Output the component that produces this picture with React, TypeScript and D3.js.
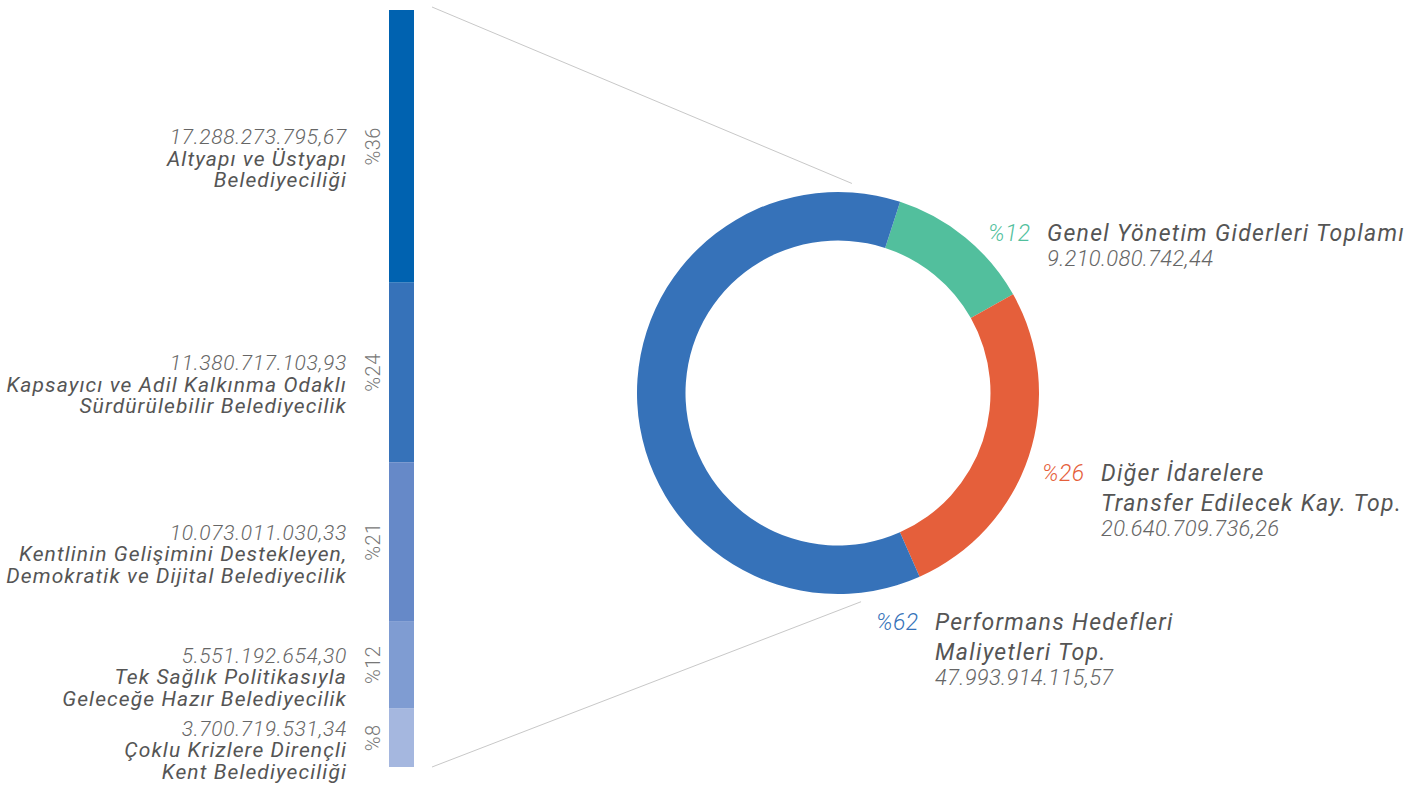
import React, { useRef, useEffect } from 'react';
import * as d3 from 'd3';

// performance goals (left stacked bar)
const programNames = [
  ['Altyapı ve Üstyapı', 'Belediyeciliği'],
  ['Kapsayıcı ve Adil Kalkınma Odaklı', 'Sürdürülebilir Belediyecilik'],
  ['Kentlinin Gelişimini Destekleyen,', 'Demokratik ve Dijital Belediyecilik'],
  ['Tek Sağlık Politikasıyla', 'Geleceğe Hazır Belediyecilik'],
  ['Çoklu Krizlere Dirençli', 'Kent Belediyeciliği'],
];
const programValues = [17288273795.67, 11380717103.93, 10073011030.33, 5551192654.3, 3700719531.34];
const programPercents = [36, 24, 21, 12, 8];

// budget split (donut)
const budgetNames = [
  ['Genel Yönetim Giderleri Toplamı'],
  ['Diğer İdarelere', 'Transfer Edilecek Kay. Top.'],
  ['Performans Hedefleri', 'Maliyetleri Top.'],
];
const budgetValues = [9210080742.44, 20640709736.26, 47993914115.57];
const budgetPercents = [12, 26, 62];

const programColors = ['#0062b0', '#3672b9', '#6689c8', '#7f9cd2', '#a5b7df'];
const budgetColors = ['#52bf9d', '#e55f3b', '#3672b9'];

// label anchors relative to donut centre
const labelAnchors = [
  { dx: 209, dy: -152 },
  { dx: 263, dy: 88 },
  { dx: 97, dy: 237 },
];

const trLocale = d3.formatLocale({ decimal: ',', thousands: '.', grouping: [3], currency: ['', ''] });
const fmt = trLocale.format(',.2f');

const App = () => {
  const svgRef = useRef<SVGSVGElement>(null);

  useEffect(() => {
    document.body.style.margin = '0';

    const width = 1424;
    const height = 789;
    const bar = { x: 389, w: 25, top: 10, bottom: 767 };
    const donut = { cx: 838, cy: 393, inner: 152.5, outer: 201 };
    const font = 'Roboto, "Helvetica Neue", Arial, sans-serif';

    const svg = d3.select(svgRef.current)
      .attr('width', width)
      .attr('height', height)
      .style('display', 'block')
      .style('font-family', font);

    svg.selectAll('*').remove();

    // stacked bar
    const total = d3.sum(programValues);
    const y = d3.scaleLinear().domain([0, total]).range([bar.top, bar.bottom]);
    const ends = Array.from(d3.cumsum(programValues));
    const segs = programValues.map((v, i) => ({
      i,
      y0: y(ends[i] - v),
      y1: y(ends[i]),
    }));

    svg.append('g')
      .selectAll('rect')
      .data(segs)
      .enter()
      .append('rect')
      .attr('x', bar.x)
      .attr('width', bar.w)
      .attr('y', d => d.y0)
      .attr('height', d => d.y1 - d.y0)
      .attr('fill', d => programColors[d.i]);

    // rotated percentages
    svg.append('g')
      .selectAll('text')
      .data(segs)
      .enter()
      .append('text')
      .attr('transform', d => `translate(${bar.x - 9},${(d.y0 + d.y1) / 2}) rotate(-90)`)
      .attr('text-anchor', 'middle')
      .style('font-size', '20px')
      .style('font-weight', 300)
      .style('letter-spacing', '0.5px')
      .attr('fill', '#777')
      .text(d => `%${programPercents[d.i]}`);

    // left labels
    const left = svg.append('g')
      .selectAll('text')
      .data(segs)
      .enter()
      .append('text')
      .attr('text-anchor', 'end')
      .attr('x', bar.x - 42)
      .attr('y', d => (d.y0 + d.y1) / 2 - 2)
      .style('font-style', 'italic')
      .style('font-size', '21px');

    left.append('tspan')
      .attr('x', bar.x - 42)
      .style('font-weight', 300)
      .style('letter-spacing', '0.7px')
      .attr('fill', '#666')
      .text(d => fmt(programValues[d.i]));

    left.each(function (d) {
      const t = d3.select(this);
      programNames[d.i].forEach(line => {
        t.append('tspan')
          .attr('x', bar.x - 42)
          .attr('dy', 21.5)
          .style('letter-spacing', '1.1px')
          .attr('fill', '#555')
          .text(line);
      });
    });

    // donut
    const start = (18 * Math.PI) / 180;
    const pie = d3.pie<number>().sort(null).value(d => d).startAngle(start).endAngle(start + 2 * Math.PI);
    const arcs = pie(budgetValues);
    const arc = d3.arc<d3.PieArcDatum<number>>().innerRadius(donut.inner).outerRadius(donut.outer);

    const g = svg.append('g').attr('transform', `translate(${donut.cx},${donut.cy})`);

    // connector lines from the bar to the donut
    const polar = (deg: number, r: number) => {
      const a = (deg * Math.PI) / 180;
      return [donut.cx + r * Math.sin(a), donut.cy - r * Math.cos(a)];
    };
    const [tx, ty] = polar(3.8, 210);
    const [bx, by] = polar(173.7, 210);
    const lineX = bar.x + bar.w + 18;
    svg.append('line')
      .attr('x1', lineX).attr('y1', bar.top - 3)
      .attr('x2', tx).attr('y2', ty)
      .attr('stroke', '#c8c8c8').attr('stroke-width', 1);
    svg.append('line')
      .attr('x1', lineX).attr('y1', bar.bottom)
      .attr('x2', bx).attr('y2', by)
      .attr('stroke', '#c8c8c8').attr('stroke-width', 1);

    g.selectAll('path')
      .data(arcs)
      .enter()
      .append('path')
      .attr('d', arc)
      .attr('fill', (d, i) => budgetColors[i]);

    // donut labels
    arcs.forEach((d, i) => {
      const ax = donut.cx + labelAnchors[i].dx;
      const ay = donut.cy + labelAnchors[i].dy;
      const lbl = svg.append('g').style('font-style', 'italic');

      lbl.append('text')
        .attr('x', ax - 59)
        .attr('y', ay)
        .style('font-size', '23px')
        .style('font-weight', 300)
        .style('letter-spacing', '0.5px')
        .attr('fill', budgetColors[i])
        .text(`%${budgetPercents[i]}`);

      const names = budgetNames[i];
      names.forEach((line, k) => {
        lbl.append('text')
          .attr('x', ax)
          .attr('y', ay + k * 29.5)
          .style('font-size', '23px')
          .style('letter-spacing', '1.3px')
          .attr('fill', '#555')
          .text(line);
      });

      lbl.append('text')
        .attr('x', ax)
        .attr('y', ay + (names.length - 1) * 29.5 + 25)
        .style('font-size', '22px')
        .style('font-weight', 300)
        .style('letter-spacing', '0.3px')
        .attr('fill', '#666')
        .text(fmt(budgetValues[i]));
    });
  }, []);

  return <svg ref={svgRef}></svg>;
};

export default App;
